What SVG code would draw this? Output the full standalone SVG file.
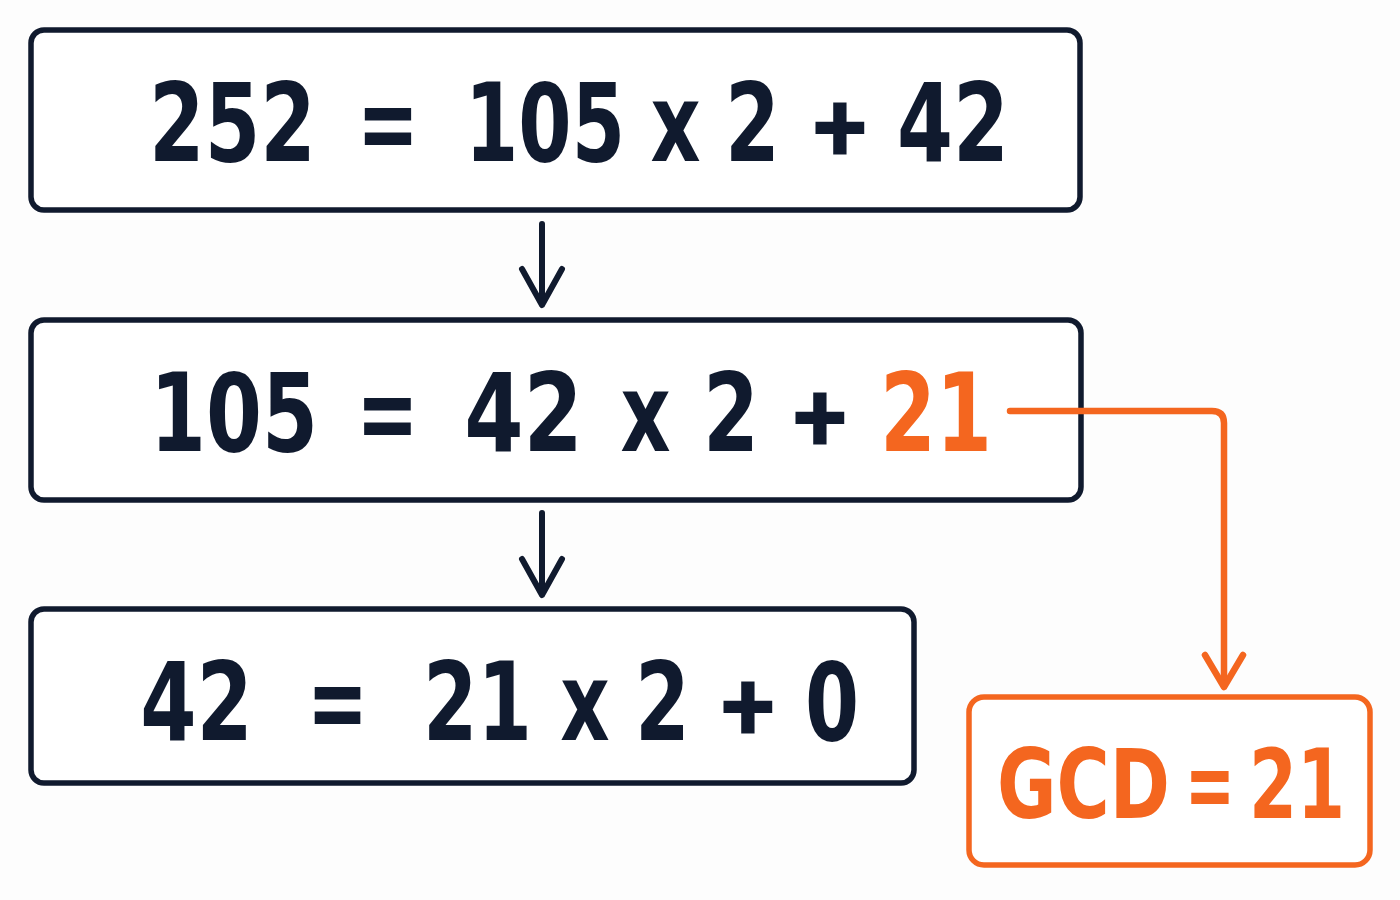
<svg xmlns="http://www.w3.org/2000/svg" width="1400" height="900" viewBox="0 0 1400 900">
  <defs>
    <style>
      .box { fill: #ffffff; stroke: #101a2e; stroke-width: 5.5; }
      .gbox { fill: #ffffff; stroke: #f4661f; stroke-width: 5.5; }
      .t { font-family: "DejaVu Sans", Roboto, sans-serif; font-weight: 700; font-size: 108px; fill: #101a2e; text-anchor: middle; }
      .p { font-family: Roboto, "DejaVu Sans", sans-serif; font-weight: 700; font-size: 100px; fill: #101a2e; text-anchor: middle; }
      .o { fill: #f4661f; }
      .g { font-size: 96px; }
      .line { fill: none; stroke: #101a2e; stroke-width: 6; stroke-linecap: round; stroke-linejoin: round; }
      .oline { fill: none; stroke: #f4661f; stroke-width: 6.5; stroke-linecap: round; stroke-linejoin: round; }
    </style>
  </defs>
  <rect width="1400" height="900" fill="#fdfdfd"/>

  <g id="step1">
    <rect class="box" x="31" y="30" width="1049" height="180" rx="13"/>
    <text class="t" transform="translate(232.5,161) scale(0.74,1)">252</text>
    <text class="t" transform="translate(388,161) scale(0.685,1)">=</text>
    <text class="t" transform="translate(545,161) scale(0.71,1)">105</text>
    <text class="t" transform="translate(675.5,161) scale(0.72,1)">x</text>
    <text class="t" transform="translate(752.5,161) scale(0.73,1)">2</text>
    <text class="p" x="840" y="161">+</text>
    <text class="t" transform="translate(953,161) scale(0.745,1)">42</text>
  </g>

  <g id="step2">
    <rect class="box" x="31" y="320" width="1050" height="180" rx="13"/>
    <text class="t" transform="translate(234,451) scale(0.745,1)">105</text>
    <text class="t" transform="translate(387.5,451) scale(0.69,1)">=</text>
    <text class="t" transform="translate(523.5,451) scale(0.79,1)">42</text>
    <text class="t" transform="translate(645.5,451) scale(0.72,1)">x</text>
    <text class="t" transform="translate(731,451) scale(0.745,1)">2</text>
    <text class="p" x="820" y="451">+</text>
    <text class="t o" transform="translate(936,451) scale(0.745,1)">21</text>
  </g>

  <g id="step3">
    <rect class="box" x="31" y="609" width="883" height="174" rx="13"/>
    <text class="t" transform="translate(196.5,740) scale(0.75,1)">42</text>
    <text class="t" transform="translate(337.5,740) scale(0.675,1)">=</text>
    <text class="t" transform="translate(477.5,740) scale(0.725,1)">21</text>
    <text class="t" transform="translate(585,740) scale(0.71,1)">x</text>
    <text class="t" transform="translate(662.5,740) scale(0.73,1)">2</text>
    <text class="p" x="748" y="740">+</text>
    <text class="t" transform="translate(832,740) scale(0.72,1)">0</text>
  </g>

  <g id="gcd">
    <rect class="gbox" x="969" y="697" width="401" height="168" rx="15"/>
    <text class="t o g" transform="translate(1083.5,818) scale(0.756,1)">GCD</text>
    <text class="t o g" transform="translate(1210,818) scale(0.62,1)">=</text>
    <text class="t o g" transform="translate(1297,818) scale(0.72,1)">21</text>
  </g>

  <g id="connectors">
    <line class="line" x1="542" y1="224" x2="542" y2="304"/>
    <polyline class="line" points="522,269 542,305 562,269"/>
    <line class="line" x1="542" y1="513" x2="542" y2="594"/>
    <polyline class="line" points="522,559 542,595 562,559"/>
    <path class="oline" d="M1010 411 H1212 Q1224 411 1224 423 V686"/>
    <polyline class="oline" points="1205,655 1224,687 1243,655"/>
  </g>
</svg>
